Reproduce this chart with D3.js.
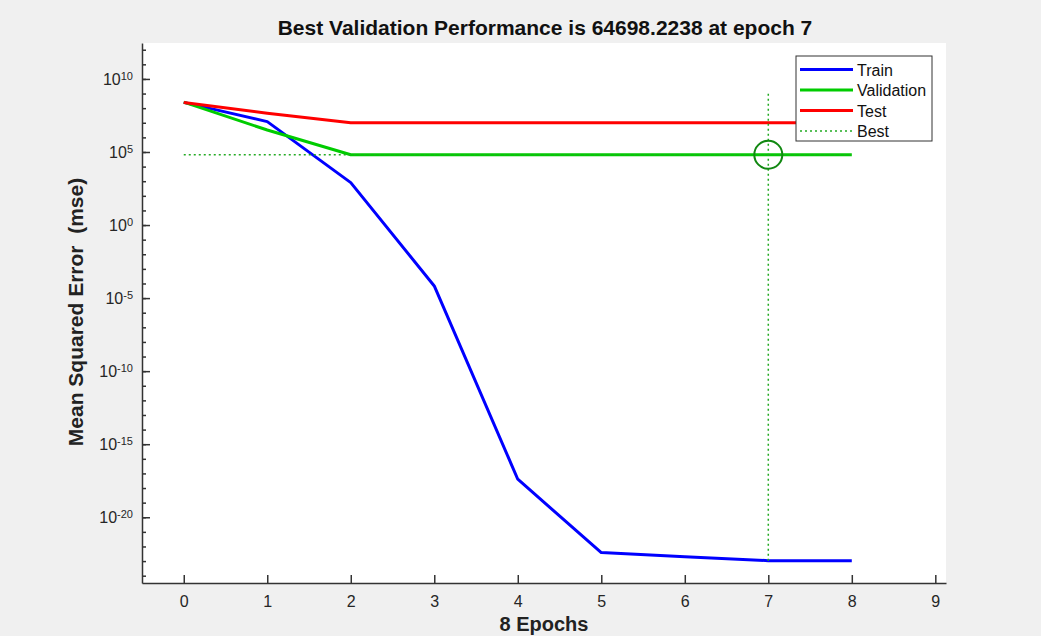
<!DOCTYPE html>
<html>
<head>
<meta charset="utf-8">
<script src="https://cdn.jsdelivr.net/npm/d3@7"></script>
<style>
  body { margin: 0; background: #f0f0f0; }
  svg { display: block; font-family: "Liberation Sans", Arial, sans-serif; }
  .axis path, .axis line { stroke: #333; stroke-width: 1.5; }
  .axis text { fill: #262626; font-size: 16px; }
</style>
</head>
<body>
<svg id="perf"></svg>
<script>
// values
var epochs = [0, 1, 2, 3, 4, 5, 6, 7, 8];
var trainPerf = [2.5e8, 1.2e7, 8e2, 6.8e-5, 4e-18, 3.8e-23, 2e-23, 1.07e-23, 1.05e-23];
var validationPerf = [2.6e8, 3.2e6, 64698.2238, 64698.2238, 64698.2238, 64698.2238, 64698.2238, 64698.2238, 64698.2238];
var testPerf = [2.4e8, 4.5e7, 1e7, 1e7, 1e7, 1e7, 1e7, 1e7, 1e7];
var bestEpoch = 7;
var bestPerf = 64698.2238;
var bestLineTop = 1.25e9;
var xTicks = [0, 1, 2, 3, 4, 5, 6, 7, 8, 9];
var yMajorExp = [-20, -15, -10, -5, 0, 5, 10];
var yMinorExp = d3.range(-24, 13);
var legendNames = ["Train", "Validation", "Test", "Best"];

var W = 1041, H = 636;
var plot = {"left": 142, "right": 946, "top": 43, "bottom": 583};

var svg = d3.select("#perf")
    .attr("width", W)
    .attr("height", H);

// grey figure, white axes area
svg.append("rect")
    .attr("width", W).attr("height", H)
    .style("fill", "#f0f0f0");
svg.append("rect")
    .attr("x", plot.left).attr("y", plot.top)
    .attr("width", plot.right - plot.left)
    .attr("height", plot.bottom - plot.top)
    .style("fill", "#fff");

var x = d3.scaleLinear()
    .domain([-0.5, 9.128])
    .range([plot.left, plot.right]);
var y = d3.scaleLog()
    .domain([Math.pow(10, -24.5), Math.pow(10, 12.46)])
    .range([plot.bottom, plot.top]);

// minor decade ticks first (no labels)
svg.append("g")
    .attr("class", "axis")
    .attr("transform", "translate(" + plot.left + ",0)")
    .call(d3.axisLeft(y)
        .tickValues(yMinorExp.map(function(e) { return Math.pow(10, e); }))
        .tickSizeInner(-4).tickSizeOuter(0)
        .tickFormat(""))
    .select(".domain").remove();

// major y ticks with 10^n labels
var yAxisG = svg.append("g")
    .attr("class", "axis")
    .attr("transform", "translate(" + plot.left + ",0)")
    .call(d3.axisLeft(y)
        .tickValues(yMajorExp.map(function(e) { return Math.pow(10, e); }))
        .tickSizeInner(-8).tickSizeOuter(0)
        .tickPadding(9)
        .tickFormat(""));
yAxisG.selectAll(".tick text")
    .each(function(d) {
        var t = d3.select(this);
        var e = Math.round(Math.log10(d));
        t.text("10");
        t.append("tspan")
            .attr("dy", "-0.45em")
            .style("font-size", "11px")
            .text(e < 0 ? "-" + (-e) : e);
    });

// x axis
svg.append("g")
    .attr("class", "axis")
    .attr("transform", "translate(0," + plot.bottom + ")")
    .call(d3.axisBottom(x)
        .tickValues(xTicks)
        .tickSizeInner(-8).tickSizeOuter(0)
        .tickPadding(13));

// performance lines
var line = d3.line()
    .x(function(d) { return x(d[0]); })
    .y(function(d) { return y(d[1]); });

var series = [
    {"name": "Train", "values": trainPerf, "color": "#0000ff"},
    {"name": "Validation", "values": validationPerf, "color": "#00cc00"},
    {"name": "Test", "values": testPerf, "color": "#ff0000"}
];
series.forEach(function(s) {
    svg.append("path")
        .datum(d3.zip(epochs, s.values))
        .attr("d", line)
        .style("fill", "none")
        .style("stroke", s.color)
        .style("stroke-width", 3)
        .style("stroke-linejoin", "round");
});

// best epoch markers
var bestColor = "#22aa22";
svg.append("path")
    .datum([[epochs[0], bestPerf], [epochs[epochs.length - 1], bestPerf]])
    .attr("d", line)
    .style("fill", "none")
    .style("stroke", bestColor)
    .style("stroke-width", 1.5)
    .style("stroke-dasharray", "2,3");
svg.append("path")
    .datum([[bestEpoch, trainPerf[bestEpoch]], [bestEpoch, bestLineTop]])
    .attr("d", line)
    .style("fill", "none")
    .style("stroke", bestColor)
    .style("stroke-width", 1.5)
    .style("stroke-dasharray", "2,3");
svg.append("circle")
    .attr("cx", x(bestEpoch))
    .attr("cy", y(bestPerf))
    .attr("r", 14)
    .style("fill", "none")
    .style("stroke", "#118811")
    .style("stroke-width", 2);

// legend box
var legend = svg.append("g")
    .attr("transform", "translate(796,56)");
legend.append("rect")
    .attr("width", 136).attr("height", 85)
    .style("fill", "#fff")
    .style("stroke", "#333")
    .style("stroke-width", 1);
var legendColors = ["#0000ff", "#00cc00", "#ff0000", bestColor];
legendNames.forEach(function(name, i) {
    var ly = 13.5 + i * 20.5;
    legend.append("line")
        .attr("x1", 4).attr("x2", 57)
        .attr("y1", ly).attr("y2", ly)
        .style("stroke", legendColors[i])
        .style("stroke-width", name == "Best" ? 1.5 : 3)
        .style("stroke-dasharray", name == "Best" ? "2,3" : null);
    legend.append("text")
        .attr("x", 61).attr("y", ly + 6)
        .style("font-size", "16px")
        .style("fill", "#111")
        .text(name);
});

// titles
svg.append("text")
    .attr("text-anchor", "middle")
    .attr("x", 545).attr("y", 35)
    .style("font-size", "21px")
    .style("font-weight", "bold")
    .style("fill", "#111")
    .text("Best Validation Performance is 64698.2238 at epoch 7");
svg.append("text")
    .attr("text-anchor", "middle")
    .attr("x", 544).attr("y", 631)
    .style("font-size", "20px")
    .style("font-weight", "bold")
    .style("fill", "#222")
    .text("8 Epochs");
svg.append("text")
    .attr("text-anchor", "middle")
    .attr("transform", "translate(83,312)rotate(-90)")
    .style("font-size", "21px")
    .style("font-weight", "bold")
    .style("fill", "#222")
    .style("white-space", "pre")
    .text("Mean Squared Error  (mse)");
</script>
</body>
</html>
